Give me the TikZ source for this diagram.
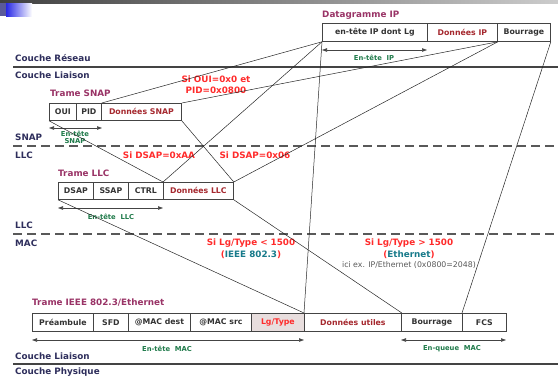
\documentclass[tikz,border=0pt]{standalone}
\usepackage{fontspec}
\setmainfont{DejaVu Sans}
\usetikzlibrary{arrows.meta}
\definecolor{navy}{HTML}{2E2E5C}
\definecolor{purp}{HTML}{993366}
\definecolor{redc}{HTML}{FF2B2B}
\definecolor{dred}{HTML}{A5282E}
\definecolor{tealc}{HTML}{177A8A}
\definecolor{greenc}{HTML}{1F7A4A}
\definecolor{boxtxt}{HTML}{333333}
\definecolor{lgfill}{HTML}{E8DEDE}
\definecolor{linec}{HTML}{444444}
\definecolor{slateb}{HTML}{5A5A9A}
\definecolor{brightb}{HTML}{2828E6}
\tikzset{
  cell/.style={draw=linec, line width=0.8pt, anchor=north west, inner sep=0pt,
    font=\fontsize{7.8}{9}\selectfont\bfseries, text=boxtxt},
  datacell/.style={cell, text=dred},
  layer/.style={anchor=west, font=\fontsize{8.8}{10}\selectfont\bfseries, text=navy, inner sep=0pt},
  ttl/.style={anchor=west, font=\fontsize{8.8}{10}\selectfont\bfseries, text=purp, inner sep=0pt},
  cond/.style={font=\fontsize{8.8}{10}\selectfont\bfseries, text=redc, inner sep=0pt},
  span/.style={font=\fontsize{6.8}{7.5}\selectfont\bfseries, text=greenc, inner sep=0pt, align=center},
  conn/.style={draw=black!85, line width=0.5pt},
  spanarrow/.style={draw=linec, line width=0.6pt, {Triangle[length=5pt,width=3.5pt]}-{Triangle[length=5pt,width=3.5pt]}},
  sep/.style={draw=linec, line width=1.6pt},
  dsep/.style={draw=black!65, line width=1.1pt, dash pattern=on 9pt off 5pt}
}
\begin{document}
\begin{tikzpicture}[x=1pt,y=-1pt]
\useasboundingbox (0,0) rectangle (558,378);
% top decoration
\shade[left color=black!75, right color=black!20] (0,0) rectangle (558,3);
\fill[slateb] (0,3) rectangle (6,16);
\shade[left color=brightb, right color=white] (6,3) rectangle (32,16);

% separators
\draw[sep] (13,67) -- (558,67);
\draw[sep] (13,364) -- (558,364);
\draw[dsep] (13,146) -- (558,146);
\draw[dsep] (13,234) -- (558,234);

% layer labels
\node[layer] (lRes) at (15,58) {Couche Réseau};
\node[layer] (lLia) at (15,75) {Couche Liaison};
\node[layer] (lSnap) at (15,137) {SNAP};
\node[layer] (lLlc) at (15,155) {LLC};
\node[layer] (lLlc2) at (15,225) {LLC};
\node[layer] (lMac) at (15,243) {MAC};
\node[layer] (lLia2) at (15,356) {Couche Liaison};
\node[layer] (lPhy) at (15,372.5) {Couche Physique};

% IP datagram
\node[ttl] (tIP) at (322,15) {Datagramme IP};
\node[cell, minimum width=105pt, minimum height=18pt] (ipH) at (322,23) {en-tête IP dont Lg};
\node[datacell, minimum width=70pt, minimum height=18pt] (ipD) at (427,23) {Données IP};
\node[cell, minimum width=53pt, minimum height=18pt] (ipB) at (497,23) {Bourrage};
\coordinate (ipA1) at (322,50);
\coordinate (ipA2) at (427,50);
\draw[spanarrow] (ipA1) -- (ipA2);
\node[span] (sIP) at (374,58) {En-tête\ \ IP};

% SNAP
\node[ttl] (tSnap) at (50,93) {Trame SNAP};
\node[cell, minimum width=27pt, minimum height=17pt] (snO) at (49,103) {OUI};
\node[cell, minimum width=25pt, minimum height=17pt] (snP) at (76,103) {PID};
\node[datacell, minimum width=80pt, minimum height=17pt] (snD) at (101,103) {Données SNAP};
\coordinate (snA1) at (49,128);
\coordinate (snA2) at (102,128);
\draw[spanarrow] (snA1) -- (snA2);
\node[span] (sSnap) at (75,137.5) {En-tête\\SNAP};
\node[cond] (cOui1) at (216,79) {Si OUI=0x0 et};
\node[cond] (cOui2) at (216,90) {PID=0x0800};

% LLC
\node[cond] (cAA) at (159,155) {Si DSAP=0xAA};
\node[cond] (c06) at (255,155) {Si DSAP=0x06};
\node[ttl] (tLlc) at (58,173) {Trame LLC};
\node[cell, minimum width=35pt, minimum height=17pt] (llD) at (58,182) {DSAP};
\node[cell, minimum width=35pt, minimum height=17pt] (llS) at (93,182) {SSAP};
\node[cell, minimum width=35pt, minimum height=17pt] (llC) at (128,182) {CTRL};
\node[datacell, minimum width=70pt, minimum height=17pt] (llX) at (163,182) {Données LLC};
\coordinate (llA1) at (58,208);
\coordinate (llA2) at (163,208);
\draw[spanarrow] (llA1) -- (llA2);
\node[span] (sLlc) at (111,217) {En-tête\ \ LLC};

% MAC conditions
\node[cond] (cLt) at (251,243) {Si Lg/Type < 1500};
\node[cond] (cLt2) at (251,255) {(\textcolor{tealc}{IEEE 802.3})};
\node[cond] (cGt) at (409,243) {Si Lg/Type > 1500};
\node[cond] (cGt2) at (409,255) {(\textcolor{tealc}{Ethernet})};
\node[font=\fontsize{7.8}{9}\selectfont, text=black!65, inner sep=0pt] (cEx) at (409,265) {ici ex. IP/Ethernet (0x0800=2048)};

% Ethernet frame
\node[ttl] (tEth) at (32,303) {Trame IEEE 802.3/Ethernet};
\node[cell, minimum width=61pt, minimum height=18pt] (ePre) at (32,313) {Préambule};
\node[cell, minimum width=35pt, minimum height=18pt] (eSFD) at (93,313) {SFD};
\node[cell, minimum width=62pt, minimum height=18pt] (eDst) at (128,313) {@MAC dest};
\node[cell, minimum width=61pt, minimum height=18pt] (eSrc) at (190,313) {@MAC src};
\node[cell, fill=lgfill, text=redc, minimum width=53pt, minimum height=18pt] (eLg) at (251,313) {Lg/Type};
\node[datacell, minimum width=97pt, minimum height=18pt] (eDat) at (304,313) {Données utiles};
\node[cell, minimum width=61pt, minimum height=18pt] (eBour) at (401,313) {Bourrage};
\node[cell, minimum width=44pt, minimum height=18pt] (eFCS) at (462,313) {FCS};
\coordinate (mA1) at (32,340);
\coordinate (mA2) at (304,340);
\draw[spanarrow] (mA1) -- (mA2);
\node[span] (sMac) at (167,349) {En-tête\ \ MAC};
\coordinate (qA1) at (401,340);
\coordinate (qA2) at (506,340);
\draw[spanarrow] (qA1) -- (qA2);
\node[span] (sQ) at (452,349) {En-queue\ \ MAC};

% connectors
\draw[conn] (snP.north east) -- (ipH.south west);
\draw[conn] (snD.north east) -- (ipD.south east);
\draw[conn] (llX.north west) -- (ipH.south west);
\draw[conn] (eDat.north west) -- (ipH.south west);
\draw[conn] (ipB.south east) -- (eFCS.north west);
\draw[conn] (snD.south east) -- (llX.north east);
\draw[conn] (llX.north east) -- (ipD.south east);
\draw[conn] (snO.south west) -- (llX.north west);
\draw[conn] (llD.south west) -- (eDat.north west);
\draw[conn] (llX.south east) -- (eDat.north east);
\end{tikzpicture}
\end{document}
